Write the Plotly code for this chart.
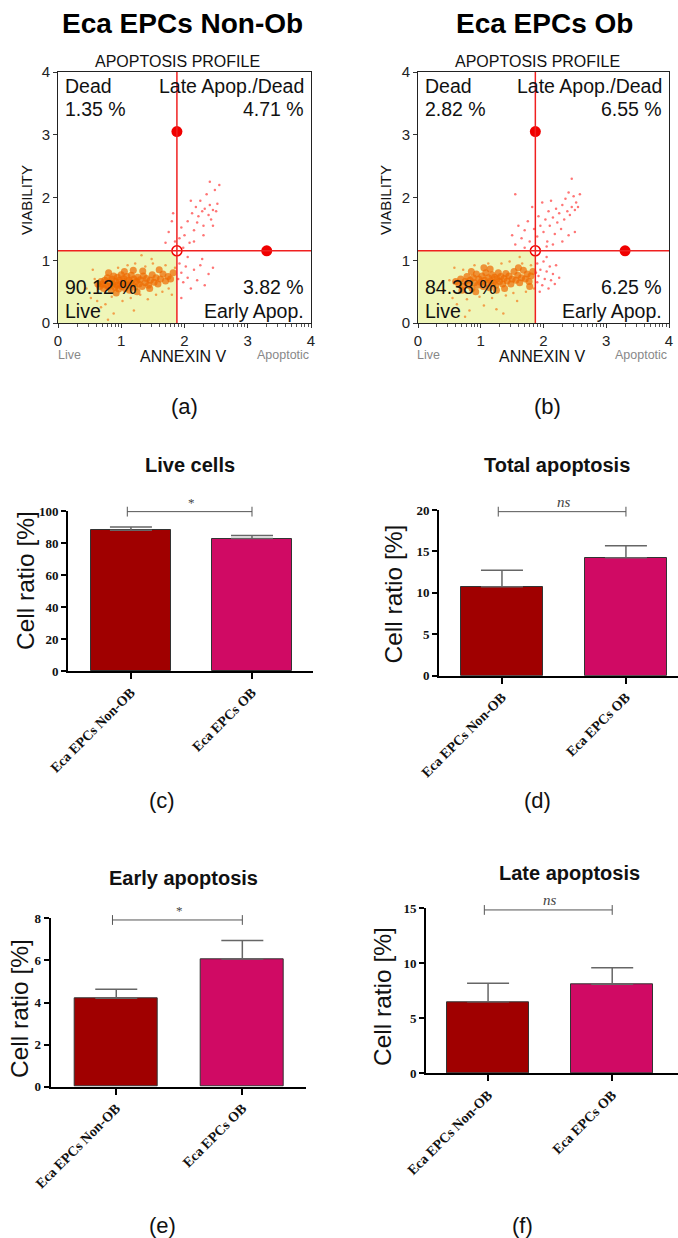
import plotly.graph_objects as go

W, H = 678, 1238
SANS = "Liberation Sans, Arial, sans-serif"
SERIF = "Liberation Serif, Times New Roman, serif"

# ---------------- data ----------------
groups = ["Eca EPCs Non-OB", "Eca EPCs OB"]
bar_colors = ["#a00000", "#d00a64"]

live_mean = [87.9, 82.8]
live_err = [2.1, 1.9]
total_mean = [10.75, 14.25]
total_err = [1.98, 1.45]
early_mean = [4.2, 6.07]
early_err = [0.43, 0.88]
late_mean = [6.5, 8.09]
late_err = [1.68, 1.51]
sig_labels = ["*", "<i>ns</i>", "*", "<i>ns</i>"]
sig_y = [99.6, 19.8, 7.92, 14.85]

# flow-cytometry quadrant percentages
a_pct = {"dead": "1.35 %", "late": "4.71 %", "live": "90.12 %", "early": "3.82 %"}
b_pct = {"dead": "2.82 %", "late": "6.55 %", "live": "84.38 %", "early": "6.25 %"}
a_gate = (1.88, 1.15)
b_gate = (1.87, 1.15)
gate_handle_y = 3.05
gate_handle_x = 3.3

# estimated events (ANNEXIN V, VIABILITY)
a_live_core = [(0.70,0.62),(0.72,0.55),(0.74,0.68),(0.76,0.60),(0.78,0.72),(0.80,0.58),(0.82,0.65),(0.84,0.52),
               (0.85,0.70),(0.87,0.62),(0.88,0.75),(0.90,0.57),(0.91,0.66),(0.93,0.60),(0.94,0.73),(0.96,0.54),
               (0.97,0.68),(0.99,0.62),(1.00,0.77),(1.01,0.58),(1.03,0.66),(1.04,0.71),(1.06,0.55),(1.07,0.63),
               (1.09,0.74),(1.10,0.60),(1.12,0.68),(1.13,0.52),(1.15,0.65),(1.16,0.76),(1.18,0.61),(1.20,0.70),
               (1.22,0.57),(1.24,0.66),(1.26,0.73),(1.28,0.62),(1.30,0.69),(1.33,0.58),(1.35,0.75),(1.38,0.64),
               (1.40,0.71),(1.43,0.60),(1.46,0.68),(1.49,0.77),(1.52,0.65),(1.55,0.72),(1.58,0.62),(1.62,0.70),
               (1.66,0.78),(1.70,0.67),(1.74,0.74),(1.78,0.70),(1.82,0.80),(0.66,0.58),(0.68,0.66),(0.63,0.62),
               (0.92,0.48),(1.05,0.82),(1.19,0.84),(1.34,0.83),(0.80,0.80),(1.25,0.50),(1.45,0.55),(1.60,0.85)]
a_live_sparse = [(0.45,0.55),(0.52,0.40),(0.58,0.70),(0.62,0.35),(0.75,0.30),(0.79,0.05),(0.85,0.42),(0.95,0.88),
                 (1.02,0.35),(1.10,0.92),(1.15,0.40),(1.22,0.95),(1.30,0.45),(1.38,0.90),(1.42,0.38),(1.50,0.95),
                 (1.55,0.45),(1.65,0.50),(1.70,0.92),(1.75,0.55),(1.80,0.45),(1.85,0.88),(0.55,0.85),(0.68,0.25),
                 (1.32,1.08),(1.20,0.20),(0.88,0.15),(1.48,1.02)]
a_apop = [(1.70,1.28),(1.75,1.45),(1.80,1.62),(1.82,1.75),(1.85,1.30),(1.92,1.35),(1.95,1.52),(2.00,1.40),
          (2.05,1.62),(2.08,1.28),(2.12,1.75),(2.15,1.48),(2.18,1.85),(2.20,1.60),(2.22,1.70),(2.25,1.95),
          (2.28,1.78),(2.30,1.55),(2.32,1.82),(2.35,2.05),(2.38,1.72),(2.40,1.88),(2.42,1.65),(2.45,1.80),
          (2.48,2.12),(2.50,1.78),(2.52,1.90),(2.55,2.20),(2.40,2.25),(2.30,1.40),(2.15,1.30),(1.98,1.20),
          (2.45,1.55),(2.10,1.95),
          (1.92,0.95),(1.95,0.80),(1.98,0.65),(2.02,0.90),(2.05,0.72),(2.10,0.55),(2.15,0.85),(2.20,0.68),
          (2.25,0.92),(2.32,0.60),(2.38,0.78),(2.45,0.88),(2.05,1.05),(1.95,0.40),(2.28,1.02),(1.90,0.70)]

b_live_core = [(0.65,0.62),(0.68,0.70),(0.72,0.58),(0.75,0.66),(0.78,0.74),(0.80,0.60),(0.83,0.68),(0.86,0.55),
               (0.88,0.72),(0.90,0.64),(0.93,0.78),(0.95,0.60),(0.97,0.70),(1.00,0.65),(1.02,0.75),(1.04,0.58),
               (1.06,0.68),(1.08,0.80),(1.10,0.63),(1.12,0.72),(1.14,0.56),(1.16,0.67),(1.18,0.77),(1.20,0.64),
               (1.22,0.73),(1.24,0.60),(1.26,0.70),(1.28,0.80),(1.30,0.66),(1.32,0.74),(1.35,0.62),(1.37,0.71),
               (1.40,0.79),(1.42,0.67),(1.45,0.75),(1.48,0.62),(1.50,0.70),(1.53,0.82),(1.56,0.68),(1.59,0.76),
               (1.62,0.64),(1.65,0.72),(1.68,0.84),(1.71,0.70),(1.74,0.78),(1.77,0.66),(1.80,0.75),(1.83,0.82),
               (0.60,0.66),(0.70,0.52),(0.92,0.50),(1.15,0.86),(1.38,0.55),(1.60,0.88),(1.78,0.58),(0.85,0.82),
               (1.25,0.52),(1.05,0.88)]
b_live_sparse = [(0.42,0.52),(0.50,0.68),(0.55,0.40),(0.62,0.30),(0.72,0.85),(0.78,0.38),(0.82,0.20),(0.90,0.92),
                 (0.98,0.42),(1.05,0.28),(1.12,0.95),(1.18,0.40),(1.25,0.22),(1.33,0.95),(1.40,0.44),(1.46,0.98),
                 (1.52,0.48),(1.58,0.35),(1.66,0.95),(1.72,0.50),(1.80,0.92),(1.85,0.55),(0.75,0.10),(1.36,0.15),
                 (0.58,0.88),(1.62,1.05)]
b_apop = [(1.55,2.05),(1.50,1.40),(1.55,1.25),(1.60,1.55),(1.65,1.35),(1.70,1.48),(1.75,1.62),(1.78,1.30),
          (1.82,1.85),(1.85,1.50),(1.90,1.38),(1.92,1.70),(1.95,1.55),(1.98,1.92),(2.00,1.45),(2.03,1.65),
          (2.06,1.30),(2.08,1.78),(2.10,1.55),(2.12,1.95),(2.15,1.68),(2.18,1.42),(2.20,1.82),(2.22,1.60),
          (2.25,1.75),(2.28,1.50),(2.30,1.88),(2.33,1.65),(2.35,1.98),(2.38,1.78),(2.40,2.08),(2.42,1.72),
          (2.45,1.85),(2.48,2.02),(2.50,1.80),(2.52,1.92),(2.55,1.85),(2.58,2.05),(2.45,2.30),(2.30,1.30),
          (2.05,1.22),(2.50,1.45),(1.70,1.20),(2.15,1.25),(2.40,1.40),
          (1.90,0.95),(1.92,0.75),(1.95,0.85),(1.98,0.60),(2.00,0.98),(2.02,0.70),(2.05,0.82),(2.08,0.55),
          (2.10,0.90),(2.12,0.68),(2.15,0.78),(2.18,0.62),(2.20,0.92),(1.94,0.50),(2.05,1.05),(1.88,0.80),
          (1.90,0.65),(2.25,0.72)]


def px(x):
    return x / W


def py(y):
    return 1 - y / H


fig = go.Figure()
annotations = []
shapes = []


def ann(text, x, y, size, xanchor="center", yanchor="middle", color="#111", family=SANS, bold=False, angle=0):
    annotations.append(dict(text=text, x=px(x), y=py(y), xref="paper", yref="paper", showarrow=False,
                            xanchor=xanchor, yanchor=yanchor, textangle=angle,
                            font=dict(size=size, color=color, family=family,
                                      weight="bold" if bold else "normal")))


minor_vals = [i + v for i in range(4) for v in (0.301, 0.477, 0.602, 0.699, 0.778, 0.845, 0.903, 0.954)]

# ---------------- flow cytometry panels ----------------
flow = [
    dict(ax=1, xd=(58, 311), core=a_live_core, sparse=a_live_sparse, apop=a_apop, gate=a_gate, pct=a_pct,
         title="Eca EPCs Non-Ob", tx=183, left=63, right=306, vx=27, label="(a)", lx=184,
         ap_x=177.5, ann_x=183.5, live_x=69, apt_x=283),
    dict(ax=2, xd=(418, 669), core=b_live_core, sparse=b_live_sparse, apop=b_apop, gate=b_gate, pct=b_pct,
         title="Eca EPCs Ob", tx=544, left=423, right=664, vx=386, label="(b)", lx=547,
         ap_x=537, ann_x=542, live_x=428, apt_x=641),
]
for p in flow:
    i = p["ax"]
    xa, ya = f"x{i}", f"y{i}"
    gx, gy = p["gate"]
    fig.add_trace(go.Scatter(x=[v[0] for v in p["sparse"]], y=[v[1] for v in p["sparse"]], mode="markers",
                             marker=dict(size=2.5, color="#f28a2e", opacity=0.8), xaxis=xa, yaxis=ya,
                             showlegend=False, hoverinfo="skip"))
    fig.add_trace(go.Scatter(x=[v[0] for v in p["core"]], y=[v[1] for v in p["core"]], mode="markers",
                             marker=dict(size=7, color="#ee6a00", opacity=0.7), xaxis=xa, yaxis=ya,
                             showlegend=False, hoverinfo="skip"))
    fig.add_trace(go.Scatter(x=[v[0] for v in p["apop"]], y=[v[1] for v in p["apop"]], mode="markers",
                             marker=dict(size=2.5, color="#ff3b3b", opacity=0.7), xaxis=xa, yaxis=ya,
                             showlegend=False, hoverinfo="skip"))
    # gate handles
    fig.add_trace(go.Scatter(x=[gx, gate_handle_x], y=[gate_handle_y, gy], mode="markers",
                             marker=dict(size=11, color="#f00000"), xaxis=xa, yaxis=ya,
                             showlegend=False, hoverinfo="skip", cliponaxis=False))
    fig.add_trace(go.Scatter(x=[gx], y=[gy], mode="markers",
                             marker=dict(size=10, color="white", line=dict(color="#f00000", width=1.5)),
                             xaxis=xa, yaxis=ya, showlegend=False, hoverinfo="skip"))
    shapes.append(dict(type="rect", xref=xa, yref=ya, x0=0, x1=gx, y0=0, y1=gy,
                       fillcolor="#eff6b8", line=dict(width=0), layer="below"))
    shapes.append(dict(type="line", xref=xa, yref=ya, x0=gx, x1=gx, y0=0, y1=4,
                       line=dict(color="#f02020", width=1.5)))
    shapes.append(dict(type="line", xref=xa, yref=ya, x0=0, x1=4, y0=gy, y1=gy,
                       line=dict(color="#f02020", width=1.5)))
    ax_common = dict(range=[0, 4], showgrid=False, zeroline=False, showline=True, linecolor="#222",
                     linewidth=1, mirror=True, ticks="outside", ticklen=4, tickcolor="#333", automargin=False,
                     tickvals=[0, 1, 2, 3, 4], tickfont=dict(size=15, family=SANS, color="#222"))
    fig.update_layout(**{
        f"xaxis{i}": dict(domain=[px(p["xd"][0]), px(p["xd"][1])], anchor=ya, **ax_common,
                          minor=dict(tickmode="array", tickvals=minor_vals, ticks="outside", ticklen=3,
                                     tickcolor="#555")),
        f"yaxis{i}": dict(domain=[py(323), py(72)], anchor=xa, **ax_common),
    })
    ann(p["title"], p["tx"], 24, 28, bold=True, color="#000")
    ann("APOPTOSIS PROFILE", p["ap_x"], 61.5, 16, color="#111")
    ann("VIABILITY", p["vx"], 200, 15, angle=-90, color="#111")
    ann("ANNEXIN V", p["ann_x"], 356.5, 16, color="#111")
    ann("Live", p["live_x"], 355, 12.5, color="#888")
    ann("Apoptotic", p["apt_x"], 355, 12.5, color="#888")
    ann(p["label"], p["lx"], 406.5, 22, color="#111")
    ann("Dead", p["left"], 86, 19.5, xanchor="left")
    ann(p["pct"]["dead"], p["left"], 108.5, 19.5, xanchor="left")
    ann("Late Apop./Dead", p["right"], 86, 19.5, xanchor="right")
    ann(p["pct"]["late"], p["right"], 108.5, 19.5, xanchor="right")
    ann(p["pct"]["live"], p["left"], 287.5, 19.5, xanchor="left")
    ann("Live", p["left"], 311, 19.5, xanchor="left")
    ann(p["pct"]["early"], p["right"], 287.5, 19.5, xanchor="right")
    ann("Early Apop.", p["right"], 311, 19.5, xanchor="right")

# ---------------- bar panels ----------------
bars = [
    dict(ax=3, mean=live_mean, err=live_err, title="Live cells", xd=(68, 313), yd=(511, 671), xr=[-0.52, 1.504],
         yr=[0, 100], tv=[0, 20, 40, 60, 80, 100], tx=190, ty=465, ytx=25, yty=581, label="(c)", lx=162, ly=800),
    dict(ax=4, mean=total_mean, err=total_err, title="Total apoptosis", xd=(439, 678), yd=(510, 675.7),
         xr=[-0.508, 1.42], yr=[0, 20], tv=[0, 5, 10, 15, 20], tx=556.5, ty=465, ytx=392.5, yty=594,
         label="(d)", lx=537, ly=800),
    dict(ax=5, mean=early_mean, err=early_err, title="Early apoptosis", xd=(50.7, 306), yd=(918.3, 1086.7),
         xr=[-0.52, 1.505], yr=[0, 8], tv=[0, 2, 4, 6, 8], tx=183.3, ty=877.5, ytx=19, yty=1009,
         label="(e)", lx=162.5, ly=1225.5),
    dict(ax=6, mean=late_mean, err=late_err, title="Late apoptosis", xd=(426, 678), yd=(908.3, 1073.3),
         xr=[-0.5, 1.53], yr=[0, 15], tv=[0, 5, 10, 15], tx=569, ty=872.5, ytx=382, yty=996,
         label="(f)", lx=522.5, ly=1225),
]
for k, b in enumerate(bars):
    i = b["ax"]
    xa, ya = f"x{i}", f"y{i}"
    fig.add_trace(go.Bar(x=[0, 1], y=b["mean"], width=0.66, xaxis=xa, yaxis=ya,
                         marker=dict(color=bar_colors, line=dict(color="#333", width=1)),
                         error_y=dict(type="data", symmetric=False, array=b["err"], arrayminus=[0, 0],
                                      color="#666", thickness=1.5, width=21),
                         showlegend=False, hoverinfo="skip"))
    fig.add_trace(go.Scatter(x=[-0.03, 1.0], y=[sig_y[k], sig_y[k]], mode="lines+markers", xaxis=xa, yaxis=ya,
                             line=dict(color="#555", width=1),
                             marker=dict(symbol="line-ns", size=7, line=dict(color="#555", width=1)),
                             cliponaxis=False, showlegend=False, hoverinfo="skip"))
    annotations.append(dict(text=sig_labels[k], x=0.5, y=sig_y[k], xref=xa, yref=ya, showarrow=False,
                            yanchor="bottom", yshift=0,
                            font=dict(size=15 if "ns" in sig_labels[k] else 13, family=SERIF, color="#444")))
    fig.update_layout(**{
        f"xaxis{i}": dict(domain=[px(b["xd"][0]), px(b["xd"][1])], anchor=ya, range=b["xr"], automargin=False,
                          tickvals=[0, 1], ticktext=groups, tickangle=-45, showgrid=False, zeroline=False,
                          showline=True, linecolor="#000", linewidth=2, ticks="outside", ticklen=6,
                          tickwidth=2, tickcolor="#000",
                          tickfont=dict(size=14, family=SERIF, color="#111", weight="bold")),
        f"yaxis{i}": dict(domain=[py(b["yd"][1]), py(b["yd"][0])], anchor=xa, range=b["yr"], automargin=False,
                          tickvals=b["tv"], showgrid=False, zeroline=False, showline=True, linecolor="#000",
                          linewidth=2, ticks="outside", ticklen=5, tickwidth=2, tickcolor="#000",
                          tickfont=dict(size=13, family=SERIF, color="#111", weight="bold")),
    })
    ann(b["title"], b["tx"], b["ty"], 20, bold=True, color="#111")
    ann("Cell ratio [%]", b["ytx"], b["yty"], 24.5, angle=-90, color="#111")
    ann(b["label"], b["lx"], b["ly"], 22, color="#111")

fig.update_layout(width=W, height=H, margin=dict(l=0, r=0, t=0, b=0, autoexpand=False), paper_bgcolor="white",
                  plot_bgcolor="white", annotations=annotations, shapes=shapes, bargap=0)

fig.write_html("out.html", config={"displayModeBar": False},
               post_script="document.body.style.margin='0';document.body.style.overflow='hidden';")
